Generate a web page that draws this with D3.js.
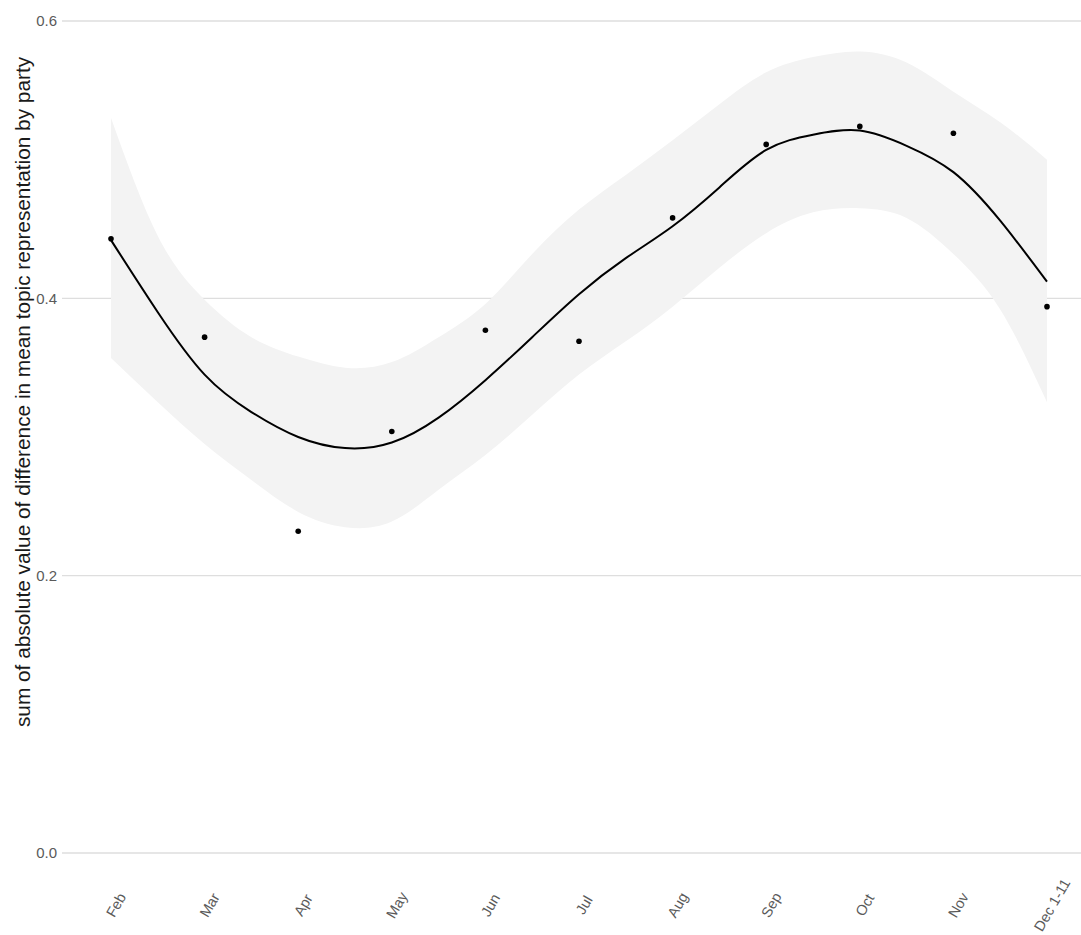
<!DOCTYPE html>
<html>
<head>
<meta charset="utf-8">
<script src="https://cdn.jsdelivr.net/npm/d3@7"></script>
<style>
  html, body { margin: 0; padding: 0; background: #fff; }
  svg { display: block; font-family: "Liberation Sans", Arial, Helvetica, sans-serif; }
</style>
</head>
<body>
<svg id="chart" width="1081" height="935"></svg>
<script>
// Monthly categories (x axis)
const months = ["Feb", "Mar", "Apr", "May", "Jun", "Jul", "Aug", "Sep", "Oct", "Nov", "Dec 1-11"];

// Observed monthly values
const observed = [0.443, 0.372, 0.232, 0.304, 0.377, 0.369, 0.458, 0.511, 0.524, 0.519, 0.394];

// Smoothed fit, sampled every half month (position in month index units)
const fitPos   = [0, 0.5, 1, 1.5, 2, 2.5, 3, 3.5, 4, 4.5, 5, 5.5, 6, 6.5, 7, 7.5, 8, 8.5, 9, 9.5, 10];
const fitValue = [0.442, 0.390, 0.345, 0.318, 0.300, 0.292, 0.296, 0.314, 0.341, 0.372, 0.403, 0.429, 0.452, 0.480, 0.507, 0.518, 0.521, 0.510, 0.491, 0.456, 0.412];
const fitUpper = [0.530, 0.445, 0.399, 0.372, 0.358, 0.350, 0.354, 0.372, 0.396, 0.432, 0.464, 0.489, 0.514, 0.540, 0.563, 0.574, 0.578, 0.570, 0.549, 0.527, 0.500];
const fitLower = [0.357, 0.325, 0.295, 0.269, 0.246, 0.235, 0.239, 0.262, 0.287, 0.316, 0.345, 0.369, 0.394, 0.422, 0.447, 0.462, 0.465, 0.458, 0.432, 0.392, 0.325];

// y axis ticks
const yTicks = [0.0, 0.2, 0.4, 0.6];
const yTitle = "sum of absolute value of difference in mean topic representation by party";

const svg = d3.select("#chart");
const panel = { left: 62, right: 1081, top: 21, bottom: 853 };

const x = d3.scaleLinear()
  .domain([0, months.length - 1])
  .range([111, 1047]);

const y = d3.scaleLinear()
  .domain([0, 0.6])
  .range([panel.bottom, panel.top]);

// Horizontal grid lines
svg.append("g")
  .selectAll("line")
  .data(yTicks)
  .join("line")
  .attr("x1", panel.left)
  .attr("x2", panel.right)
  .attr("y1", d => y(d))
  .attr("y2", d => y(d))
  .attr("stroke", "#dedede")
  .attr("stroke-width", 1.4);

// y tick labels
svg.append("g")
  .selectAll("text")
  .data(yTicks)
  .join("text")
  .attr("x", 57)
  .attr("y", d => y(d))
  .attr("dy", "0.35em")
  .attr("text-anchor", "end")
  .attr("fill", "#5a5a5a")
  .attr("font-size", 15)
  .text(d => d3.format(".1f")(d));

// y axis title
svg.append("text")
  .attr("transform", `translate(30, 392) rotate(-90)`)
  .attr("text-anchor", "middle")
  .attr("fill", "#1a1a1a")
  .attr("font-size", 20.8)
  .text(yTitle);

// x tick labels, rotated
svg.append("g")
  .selectAll("text")
  .data(months)
  .join("text")
  .attr("transform", (d, i) => `translate(${x(i) + 5}, 905) rotate(-60)`)
  .attr("text-anchor", "middle")
  .attr("dy", "0.35em")
  .attr("fill", "#5a5a5a")
  .attr("font-size", 14.5)
  .text(d => d);

// Confidence band
const band = fitPos.map((p, i) => ({ p, lo: fitLower[i], hi: fitUpper[i] }));
svg.append("path")
  .datum(band)
  .attr("fill", "#f3f3f3")
  .attr("d", d3.area()
    .x(d => x(d.p))
    .y0(d => y(d.lo))
    .y1(d => y(d.hi))
    .curve(d3.curveNatural));

// Smoothed line
const fit = fitPos.map((p, i) => ({ p, v: fitValue[i] }));
svg.append("path")
  .datum(fit)
  .attr("fill", "none")
  .attr("stroke", "#000")
  .attr("stroke-width", 2)
  .attr("d", d3.line()
    .x(d => x(d.p))
    .y(d => y(d.v))
    .curve(d3.curveNatural));

// Observed points
svg.append("g")
  .selectAll("circle")
  .data(observed)
  .join("circle")
  .attr("cx", (d, i) => x(i))
  .attr("cy", d => y(d))
  .attr("r", 2.8)
  .attr("fill", "#000");
</script>
</body>
</html>
